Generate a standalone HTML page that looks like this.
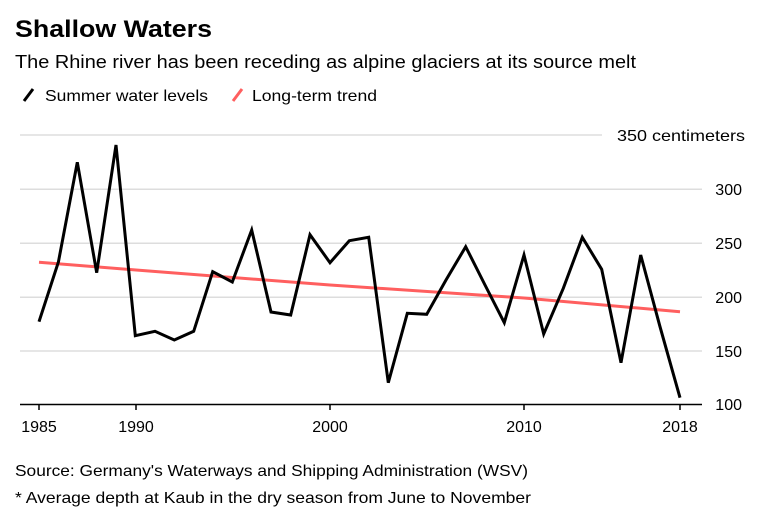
<!DOCTYPE html>
<html><head><style>
body{margin:0;background:#fff;width:768px;height:513px;overflow:hidden;font-family:"Liberation Sans",sans-serif;color:#000}
</style></head><body>
<svg width="768" height="513" xmlns="http://www.w3.org/2000/svg" font-family="Liberation Sans, sans-serif">
<text x="15" y="37" font-size="24" font-weight="bold" textLength="197" lengthAdjust="spacingAndGlyphs">Shallow Waters</text>
<text x="15" y="68" font-size="18" textLength="621" lengthAdjust="spacingAndGlyphs">The Rhine river has been receding as alpine glaciers at its source melt</text>
<line x1="24" y1="101" x2="33" y2="89" stroke="#000" stroke-width="3"/>
<text x="45" y="101" font-size="16" textLength="163" lengthAdjust="spacingAndGlyphs">Summer water levels</text>
<line x1="233" y1="101" x2="242" y2="89" stroke="#ff5f5f" stroke-width="3"/>
<text x="252" y="101" font-size="16" textLength="125" lengthAdjust="spacingAndGlyphs">Long-term trend</text>
<g stroke="#ddd" stroke-width="1.5">
<line x1="20" y1="135" x2="602" y2="135"/>
<line x1="20" y1="189.3" x2="702" y2="189.3"/>
<line x1="20" y1="243.3" x2="702" y2="243.3"/>
<line x1="20" y1="297.3" x2="702" y2="297.3"/>
<line x1="20" y1="351" x2="702" y2="351"/>
</g>
<line x1="20" y1="404.5" x2="702" y2="404.5" stroke="#000" stroke-width="1.5"/>
<g stroke="#000" stroke-width="1.5">
<line x1="39" y1="404" x2="39" y2="410"/><line x1="136" y1="404" x2="136" y2="410"/>
<line x1="330" y1="404" x2="330" y2="410"/><line x1="524" y1="404" x2="524" y2="410"/>
<line x1="680" y1="404" x2="680" y2="410"/>
</g>
<g font-size="16" text-anchor="end">
<text x="745" y="141" textLength="128" lengthAdjust="spacingAndGlyphs">350 centimeters</text>
<text x="742" y="195">300</text>
<text x="742" y="249">250</text>
<text x="742" y="303">200</text>
<text x="742" y="357">150</text>
<text x="742" y="410">100</text>
</g>
<g font-size="16" text-anchor="middle">
<text x="39" y="432">1985</text><text x="136" y="432">1990</text>
<text x="330" y="432">2000</text><text x="524" y="432">2010</text><text x="680" y="432">2018</text>
</g>
<polyline fill="none" stroke="#ff5f5f" stroke-width="3" points="39,262.3 136,270 330,285 524,298 680,311.7"/>
<polyline fill="none" stroke="#000" stroke-width="3" stroke-linejoin="miter" points="39,321.7 58.4,262 77.3,162.3 96.7,272.7 116,145 135.3,335.7 155,331.3 174.3,340 193.7,331.3 212.7,271.7 232.3,282 251.7,230 271,312 290.7,315 310,234.7 330,262.7 349.3,240.7 368.7,237.3 388.3,382.7 407.3,313.3 426.7,314.3 446,280 465.7,246.7 485,285 504.3,322.7 524,255 543.7,334 563.3,288.3 582.3,237.3 601.7,269.3 621,362.7 640.7,255 660,326.7 680,397.7"/>
<text x="15" y="476" font-size="16" textLength="513" lengthAdjust="spacingAndGlyphs">Source: Germany's Waterways and Shipping Administration (WSV)</text>
<text x="15" y="503" font-size="16" textLength="516" lengthAdjust="spacingAndGlyphs">* Average depth at Kaub in the dry season from June to November</text>
</svg>
</body></html>
